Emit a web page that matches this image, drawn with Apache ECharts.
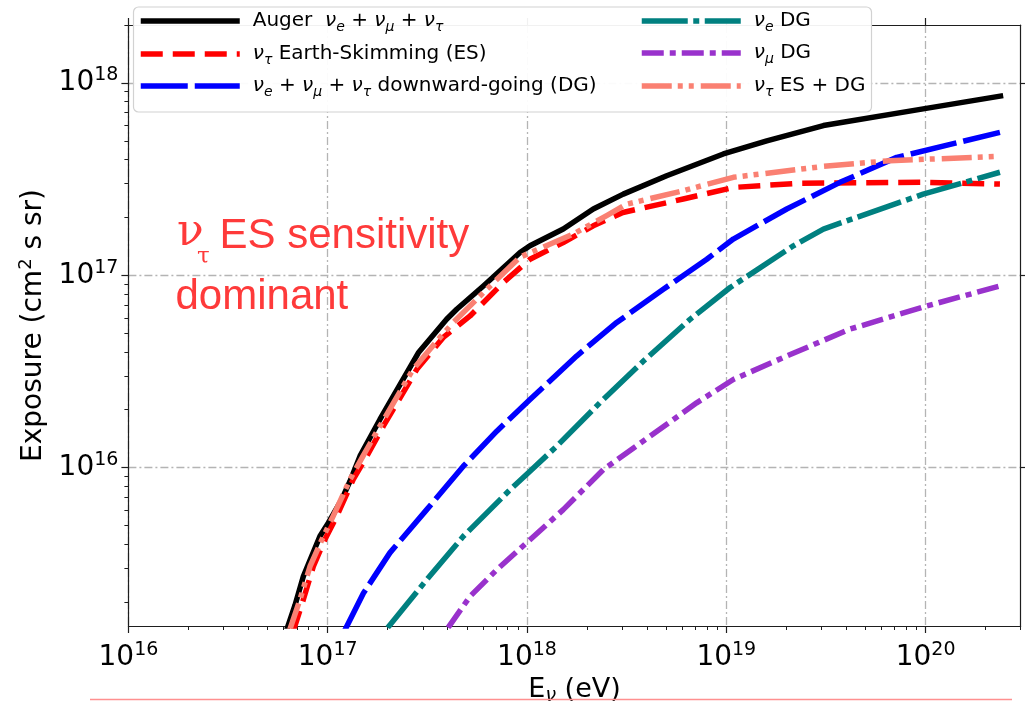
<!DOCTYPE html>
<html><head><meta charset="utf-8">
<script src="https://cdn.jsdelivr.net/npm/echarts@6/dist/echarts.min.js"></script>
<style>html,body{margin:0;padding:0;background:#fff}#c{width:1025px;height:701px}</style>
</head><body><div id="c"></div>
<script>
// ---- data (energy in eV, exposure in cm^2 s sr) ----
const augerE   = [6.18e16, 6.86e16, 7.55e16, 9.14e16, 1.007e17, 1.175e17, 1.294e17, 1.452e17, 1.828e17, 2.85e17, 3.95e17, 4.44e17, 6.04e17, 9.23e17, 1.035e18, 1.52e18, 2.15e18, 3.04e18, 5.02e18, 9.66e18, 1.596e19, 3.07e19, 9.72e19, 2.45e20];
const augerExp = [1.40e15, 1.93e15, 2.72e15, 4.39e15, 5.15e15, 6.81e15, 8.49e15, 1.146e16, 1.778e16, 3.95e16, 5.90e16, 6.65e16, 8.79e16, 1.312e17, 1.422e17, 1.738e17, 2.21e17, 2.64e17, 3.29e17, 4.27e17, 5.00e17, 6.00e17, 7.33e17, 8.59e17];

const esE   = [6.70e16, 7.55e16, 8.47e16, 9.68e16, 1.109e17, 1.343e17, 1.570e17, 1.901e17, 2.80e17, 3.80e17, 5.18e17, 7.60e17, 1.035e18, 1.52e18, 2.15e18, 3.03e18, 6.08e18, 1.084e19, 2.34e19, 9.72e19, 2.36e20];
const esExp = [1.40e15, 2.06e15, 3.06e15, 4.22e15, 5.57e15, 8.67e15, 1.146e16, 1.641e16, 3.24e16, 4.75e16, 6.14e16, 9.16e16, 1.211e17, 1.479e17, 1.807e17, 2.12e17, 2.49e17, 2.86e17, 3.01e17, 3.04e17, 2.98e17];

const dgE   = [1.208e17, 1.510e17, 2.05e17, 3.14e17, 4.79e17, 7.05e17, 1.035e18, 1.774e18, 2.82e18, 4.83e18, 7.98e18, 1.084e19, 2.01e19, 3.72e19, 7.16e19, 2.36e20];
const dgExp = [1.40e15, 2.22e15, 3.60e15, 6.04e15, 1.016e16, 1.545e16, 2.26e16, 3.80e16, 5.68e16, 8.45e16, 1.211e17, 1.542e17, 2.21e17, 3.04e17, 4.10e17, 5.53e17];

const nueE   = [2.00e17, 3.14e17, 4.79e17, 8.22e17, 1.035e18, 1.41e18, 2.32e18, 3.84e18, 6.58e18, 1.045e19, 2.17e19, 3.07e19, 9.72e19, 2.36e20];
const nueExp = [1.47e15, 2.61e15, 4.39e15, 7.67e15, 9.57e15, 1.291e16, 2.17e16, 3.58e16, 5.90e16, 8.63e16, 1.422e17, 1.738e17, 2.64e17, 3.43e17];

const numuE   = [4.02e17, 5.18e17, 7.05e17, 9.95e17, 1.52e18, 2.42e18, 4.14e18, 7.10e18, 1.084e19, 2.01e19, 4.16e19, 1.014e20, 2.36e20];
const numuExp = [1.47e15, 2.14e15, 2.94e15, 4.06e15, 6.04e15, 9.77e15, 1.455e16, 2.17e16, 2.87e16, 3.80e16, 5.24e16, 6.92e16, 8.79e16];

const esdgE   = [6.40e16, 7.26e16, 8.15e16, 9.35e16, 1.064e17, 1.294e17, 1.503e17, 1.828e17, 2.68e17, 3.66e17, 4.27e17, 6.28e17, 9.23e17, 1.706e18, 2.51e18, 3.16e18, 6.08e18, 1.084e19, 3.07e19, 6.62e19, 2.36e20];
const esdgExp = [1.40e15, 2.06e15, 3.06e15, 4.22e15, 5.57e15, 8.67e15, 1.146e16, 1.641e16, 3.24e16, 4.75e16, 5.68e16, 8.45e16, 1.242e17, 1.637e17, 2.04e17, 2.34e17, 2.75e17, 3.23e17, 3.68e17, 3.94e17, 4.15e17];

const seriesNames = ['Auger  νe + νμ + ντ', 'ντ Earth-Skimming (ES)', 'νe + νμ + ντ downward-going (DG)', 'νe DG', 'νμ DG', 'ντ ES + DG'];
const xRange = [1e16, 3e20];
const yRange = [1.5e15, 2e18];
const xTickValues = [1e16, 1e17, 1e18, 1e19, 1e20];
const yTickValues = [1e16, 1e17, 1e18];

// ---- build ----
const L = Math.log10;
function minorTicks(range) {
  const out = [];
  for (let d = Math.floor(L(range[0])); d <= Math.ceil(L(range[1])); d++) {
    for (let k = 2; k <= 9; k++) {
      const v = L(k) + d;
      if (v >= L(range[0]) - 1e-9 && v <= L(range[1]) + 1e-9) out.push(v);
    }
  }
  return out;
}
const xMaj = xTickValues.map(L), yMaj = yTickValues.map(L);
const xMin = minorTicks(xRange), yMin = minorTicks(yRange);
const pairs = (xs, ys) => xs.map((x, i) => [L(x), L(ys[i])]);

const spine = '#1e1e1e';
const richTick = {
  b: {fontFamily: 'DejaVu Sans', fontSize: 28, lineHeight: 34, color: '#000'},
  p: {fontFamily: 'DejaVu Sans', fontSize: 19, lineHeight: 20, verticalAlign: 'top', color: '#000'}
};
const tickFmt = v => '{b|10}{p|' + Math.round(v) + '}';
const gridLine = {show: true, lineStyle: {color: '#b4b4b4', width: 1.3, type: [8, 3, 2, 3]}};

const legendText = [
  '{g| }{t|Auger  }{i|ν}{s|e}{t| + }{i|ν}{s|μ}{t| + }{i|ν}{s|τ}',
  '{g| }{i|ν}{s|τ}{t| Earth-Skimming (ES)}',
  '{g| }{i|ν}{s|e}{t| + }{i|ν}{s|μ}{t| + }{i|ν}{s|τ}{t| downward-going (DG)}',
  '{g| }{i|ν}{s|e}{t| DG}',
  '{g| }{i|ν}{s|μ}{t| DG}',
  '{g| }{i|ν}{s|τ}{t| ES + DG}'
];
const legendRich = {
  g: {width: 8, fontSize: 20, lineHeight: 26},
  t: {fontFamily: 'DejaVu Sans', fontSize: 20, lineHeight: 26, color: '#000'},
  i: {fontFamily: 'DejaVu Sans', fontStyle: 'italic', fontSize: 20, lineHeight: 26, color: '#000'},
  s: {fontFamily: 'DejaVu Sans', fontStyle: 'italic', fontSize: 14, lineHeight: 14, verticalAlign: 'bottom', color: '#000'}
};
const legendPos = [[138, 24], [138, 57], [138, 89], [639, 24], [639, 56], [639, 89]];

const styles = [
  {color: '#000000', type: 'solid'},
  {color: '#ff0000', type: [22, 10]},
  {color: '#0000ff', type: [47, 7]},
  {color: '#008080', type: [46, 5.5, 6, 5.5]},
  {color: '#9932cc', type: [22, 6, 6, 6]},
  {color: '#fa8072', type: [30, 6, 5, 6, 5, 7]}
];
const dataSets = [pairs(augerE, augerExp), pairs(esE, esExp), pairs(dgE, dgExp), pairs(nueE, nueExp), pairs(numuE, numuExp), pairs(esdgE, esdgExp)];
const LW = 5.5;

const redText = '#fe3a3a';
const option = {
  animation: false,
  backgroundColor: '#fff',
  grid: {left: 128.4, right: 4.3, top: 25, bottom: 75, show: false, containLabel: false, outerBoundsMode: 'none'},
  xAxis: [
    {type: 'value', min: L(xRange[0]), max: L(xRange[1]), position: 'bottom',
     axisLine: {show: true, onZero: false, lineStyle: {color: spine, width: 1.2}},
     axisTick: {show: true, inside: false, length: 7, customValues: xMaj, lineStyle: {color: spine, width: 1.2}},
     axisLabel: {show: true, customValues: xMaj, formatter: tickFmt, margin: 15, rich: richTick},
     splitLine: gridLine,
     name: '{a|E}{s|ν}{a| (eV)}', nameLocation: 'middle', nameGap: 43,
     nameTextStyle: {rich: {
       a: {fontFamily: 'DejaVu Sans', fontSize: 27, lineHeight: 30, color: '#000'},
       s: {fontFamily: 'DejaVu Sans', fontStyle: 'italic', fontSize: 19, lineHeight: 19, verticalAlign: 'bottom', color: '#000'}}}},
    {type: 'value', min: L(xRange[0]), max: L(xRange[1]), position: 'bottom',
     axisLine: {show: false, onZero: false},
     axisTick: {show: true, inside: false, length: 4, customValues: xMin, lineStyle: {color: spine, width: 1}},
     axisLabel: {show: false}, splitLine: {show: false}},
    {type: 'value', min: L(xRange[0]), max: L(xRange[1]), position: 'top',
     axisLine: {show: true, onZero: false, lineStyle: {color: spine, width: 1.2}},
     axisTick: {show: true, inside: false, length: 7, customValues: xMaj, lineStyle: {color: spine, width: 1.2}},
     axisLabel: {show: false}, splitLine: {show: false}}
  ],
  yAxis: [
    {type: 'value', min: L(yRange[0]), max: L(yRange[1]), position: 'left',
     axisLine: {show: true, onZero: false, lineStyle: {color: spine, width: 1.2}},
     axisTick: {show: true, inside: false, length: 7, customValues: yMaj, lineStyle: {color: spine, width: 1.2}},
     axisLabel: {show: true, customValues: yMaj, formatter: tickFmt, margin: 10, rich: richTick},
     splitLine: gridLine,
     name: '{a|Exposure (cm}{p|2}{a| s sr)}', nameLocation: 'middle', nameGap: 73, nameRotate: 90,
     nameTextStyle: {rich: {
       a: {fontFamily: 'DejaVu Sans', fontSize: 28, lineHeight: 32, color: '#000'},
       p: {fontFamily: 'DejaVu Sans', fontSize: 18, lineHeight: 18, verticalAlign: 'top', color: '#000'}}}},
    {type: 'value', min: L(yRange[0]), max: L(yRange[1]), position: 'left',
     axisLine: {show: false, onZero: false},
     axisTick: {show: true, inside: false, length: 4, customValues: yMin, lineStyle: {color: spine, width: 1}},
     axisLabel: {show: false}, splitLine: {show: false}},
    {type: 'value', min: L(yRange[0]), max: L(yRange[1]), position: 'right',
     axisLine: {show: true, onZero: false, lineStyle: {color: spine, width: 1.2}},
     axisTick: {show: true, inside: false, length: 7, customValues: yMaj, lineStyle: {color: spine, width: 1.2}},
     axisLabel: {show: false}, splitLine: {show: false}}
  ],
  legend: seriesNames.map((n, i) => ({
    data: [n], left: legendPos[i][0], top: legendPos[i][1] - 13, orient: 'horizontal',
    padding: 0, itemGap: 0, itemWidth: 99, itemHeight: 12, selectedMode: false, z: 12,
    formatter: () => legendText[i],
    textStyle: {fontFamily: 'DejaVu Sans', fontSize: 20, rich: legendRich},
    itemStyle: {opacity: 0, borderWidth: 0},
    lineStyle: {width: LW}
  })),
  series: seriesNames.map((n, i) => ({
    name: n, type: 'line', xAxisIndex: 0, yAxisIndex: 0, data: dataSets[i],
    symbol: 'none', showSymbol: false, smooth: false, clip: true, z: 2 + i * 0.01,
    lineStyle: {color: styles[i].color, width: LW, type: styles[i].type, join: 'round', cap: 'butt'},
    itemStyle: {color: styles[i].color},
    emphasis: {disabled: true}
  })),
  graphic: {elements: [
    {type: 'rect', z: 10, silent: true, shape: {x: 133.5, y: 7, width: 738, height: 105, r: 5},
     style: {fill: 'rgba(255,255,255,0.94)', stroke: '#d2d2d2', lineWidth: 1.2}},
    {type: 'text', z: 5, silent: true, style: {text: 'ν', x: 177, y: 234, font: '44px "DejaVu Serif"', fill: redText, verticalAlign: 'middle'}},
    {type: 'text', z: 5, silent: true, style: {text: 'τ', x: 197, y: 257, font: '23px "DejaVu Serif"', fill: redText, verticalAlign: 'middle'}},
    {type: 'text', z: 5, silent: true, style: {text: 'ES sensitivity', x: 219.5, y: 236.3, font: '42px "Liberation Sans"', fill: redText, verticalAlign: 'middle'}},
    {type: 'text', z: 5, silent: true, style: {text: 'dominant', x: 175.5, y: 297.8, font: '42px "Liberation Sans"', fill: redText, verticalAlign: 'middle'}},
    {type: 'line', z: 5, silent: true, shape: {x1: 90, y1: 699.5, x2: 1012, y2: 699.5}, style: {stroke: '#ff9090', lineWidth: 1.5}}
  ]}
};
const chart = echarts.init(document.getElementById('c'), null, {renderer: 'canvas'});
chart.setOption(option);
</script>
</body></html>
